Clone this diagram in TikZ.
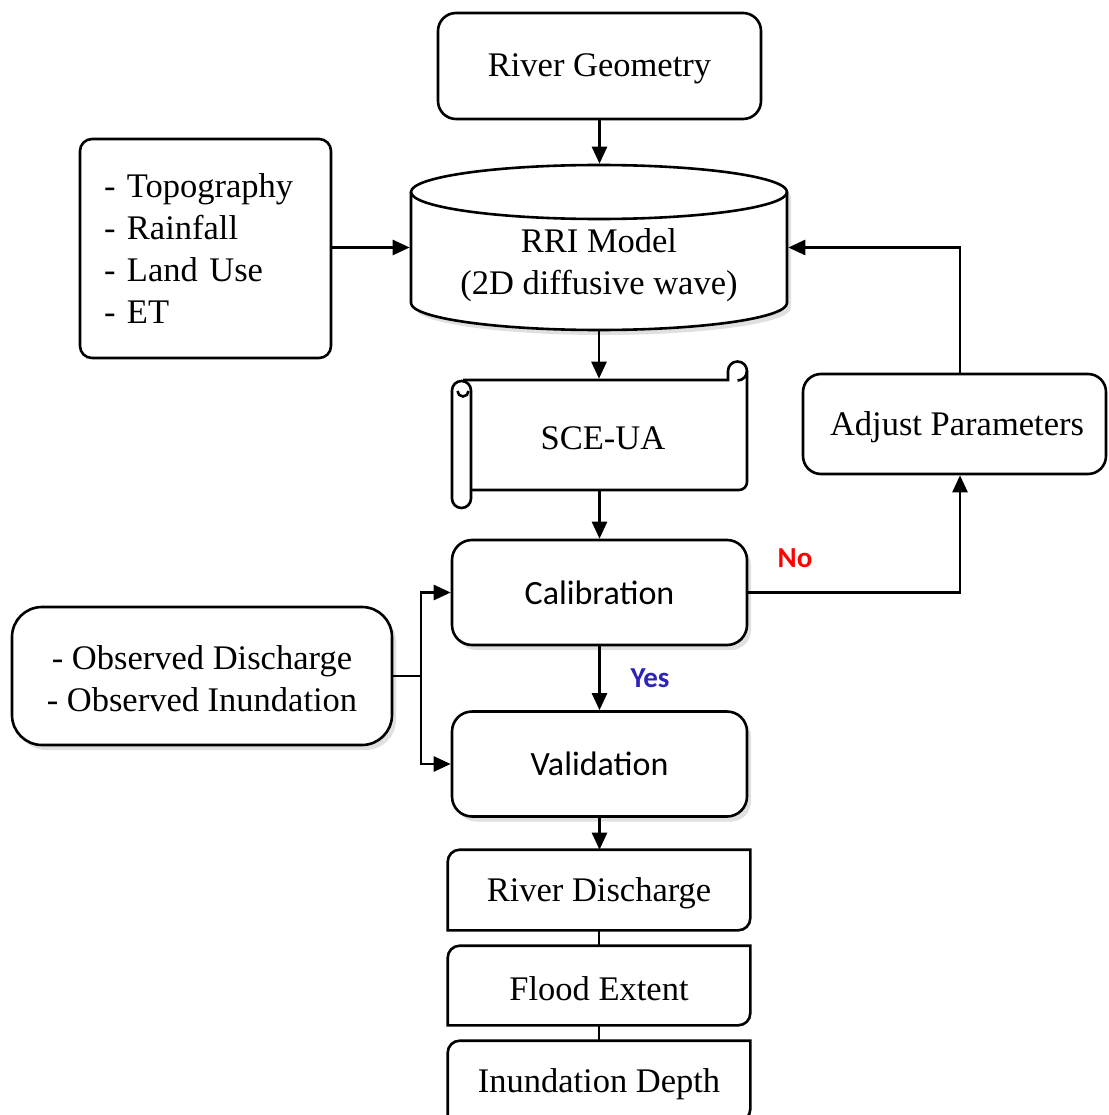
\documentclass[tikz,border=0pt]{standalone}
\usepackage{fontspec}
\setmainfont{Liberation Serif}
\newfontfamily\calfont{Carlito}
\usetikzlibrary{arrows.meta,shadows,calc}
\newcommand\outshape[1]{%
  \draw[fill=white] (#1.south west) -- ([yshift=-12pt]#1.north west)
    arc[start angle=180,end angle=90,radius=12pt] -- (#1.north east)
    -- ([yshift=12pt]#1.south east)
    arc[start angle=0,end angle=-90,radius=12pt] -- cycle;}
\begin{document}
\begin{tikzpicture}[x=1pt,y=1pt,line width=2.6pt,
  >={Triangle[length=17pt,width=15pt]},
  serif/.style={font=\fontsize{34.5}{42}\selectfont},
  box/.style={draw,fill=white,rounded corners=18pt,inner sep=0pt,serif},
  calbox/.style={box,rounded corners=20pt,minimum width=295pt,minimum height=105pt,
    font=\calfont\fontsize{34}{42}\selectfont},
  shadowed/.style={drop shadow={shadow xshift=4pt,shadow yshift=-5pt,opacity=0.12,fill=black}},
  outnode/.style={inner sep=0pt,minimum width=300pt,serif},
  lab/.style={font=\calfont\bfseries\fontsize{29}{34}\selectfont,inner sep=0pt}]
\useasboundingbox (0,0) rectangle (1108,-1115);
\clip (0,0) rectangle (1108,-1115);
\definecolor{yescol}{RGB}{45,35,185}
\definecolor{nocol}{RGB}{255,0,0}

% River Geometry
\node[box,minimum width=323pt,minimum height=106pt] (geo) at (599.5,-66) {};
\node[serif,inner sep=0pt] (geotxt) at (599.5,-69) {River Geometry};

% inputs
\node[box,rounded corners=12pt,minimum width=251pt,minimum height=219pt,
  align=left,text width=203pt] (inp) at (205.5,-248.5)
  {- Topography\\- Rainfall\\- Land Use\\- ET};

% RRI cylinder
\node[inner sep=0pt,minimum width=376pt,minimum height=165pt] (rri) at (599,-247.5) {};
\path[fill=white,shadowed] (411,-192) -- (411,-303)
  arc[start angle=180,end angle=360,x radius=188pt,y radius=27pt] -- (787,-192)
  arc[start angle=0,end angle=180,x radius=188pt,y radius=27pt] -- cycle;
\draw (411,-192) -- (411,-303)
  arc[start angle=180,end angle=360,x radius=188pt,y radius=27pt] -- (787,-192);
\draw (599,-192) ellipse[x radius=188pt,y radius=27pt];
\node[serif,align=center,inner sep=0pt] (rritxt) at (599,-265) {RRI Model\\(2D diffusive wave)};

% SCE-UA scroll
\node[inner sep=0pt,minimum width=295pt,minimum height=110pt] (sce) at (599.5,-435) {};
\draw[fill=white] (463,-380) -- (728,-380) -- (728,-371)
  arc[start angle=180,end angle=0,radius=9.5pt] -- (747,-482)
  arc[start angle=0,end angle=-90,radius=8pt] -- (471,-490);
\draw (747,-371) arc[start angle=0,end angle=-90,radius=9.5pt];
\draw[fill=white,rounded corners=9.5pt] (452,-381) rectangle (471,-508);
\draw (457.5,-391) arc[start angle=180,end angle=360,radius=5.5pt];
\node[serif,inner sep=0pt] (scetxt) at (603,-438) {SCE-UA};

% Calibration / Validation
\node[calbox,shadowed] (cal) at (599.5,-592.5) {Calibration};
\node[calbox,shadowed] (val) at (599.5,-764) {Validation};

% Observed
\node[box,shadowed,rounded corners=30pt,minimum width=380pt,minimum height=138pt,
  align=center] (obs) at (202,-676) {};
\node[serif,align=center,inner sep=0pt] (obstxt) at (202,-678.5) {- Observed Discharge\\- Observed Inundation};

% Adjust Parameters
\node[box,minimum width=303pt,minimum height=100pt] (adj) at (954.5,-424) {};
\node[serif,inner sep=0pt] (adjtxt) at (957,-427) {Adjust Parameters};

% outputs
\node[outnode,minimum height=78pt] (rd) at (599,-890) {};
\node[outnode,minimum height=77pt] (fe) at (599,-985.5) {};
\node[outnode,minimum height=78pt] (id) at (599,-1081) {};
\outshape{rd}\outshape{fe}\outshape{id}
\node[serif,inner sep=0pt] (rdtxt) at (599,-893) {River Discharge};
\node[serif,inner sep=0pt] (fetxt) at (599,-988.5) {Flood Extent};
\node[serif,inner sep=0pt] (idtxt) at (599,-1084) {Inundation Depth};

% connectors
\draw[->] (geo.south) -- (geo.south |- rri.north);
\draw[->] (inp.east |- rri.west) -- (rri.west);
\draw[->] (rri.south) -- (rri.south |- sce.north);
\draw[->] (sce.south) -- (cal.north);
\draw[->] (cal.south) -- (val.north);
\draw[->] (val.south) -- (val.south |- rd.north);
\draw (rd.south) -- (fe.north);
\draw (fe.south) -- (id.north);
\draw[->] (cal.east) -| ([xshift=5.5pt]adj.south);
\draw[->] ([xshift=5.5pt]adj.north) |- (rri.east);
\coordinate (jn) at (421,-676);
\draw (obs.east) -- (jn);
\draw[->] (jn) |- (cal.west);
\draw[->] (jn) |- (val.west);

% labels
\node[lab,text=nocol] (no) at (795,-558) {No};
\node[lab,text=yescol] (yes) at (650,-678) {Yes};
\end{tikzpicture}
\end{document}
